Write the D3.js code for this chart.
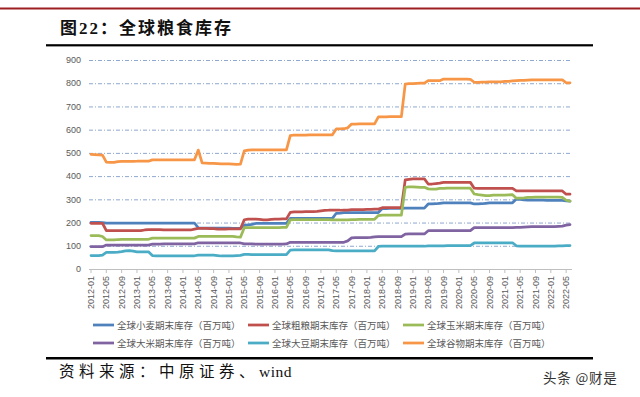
<!DOCTYPE html>
<html><head><meta charset="utf-8">
<script src="https://cdn.jsdelivr.net/npm/d3@7"></script>
<style>body{margin:0;background:#fff}svg{display:block}</style>
</head><body>
<svg id="c" width="640" height="397"></svg>
<script>
// Monthly values 2012-01 .. 2022-06 (million tonnes)
const wheat = [
201,201,201,200,198,198,198,198,198,198,198,198,
198,198,198,198,198,198,198,198,198,198,198,198,
198,198,198,198,177,176,176,176,176,176,176,176,
176,175,175,175,188,190,192,196,197,197,197,197,
197,197,197,197,218,218,218,218,218,218,218,218,
218,218,218,218,240,241,243,243,243,243,243,243,
243,243,243,243,260,260,261,261,261,261,262,262,
262,262,262,262,280,280,281,283,285,285,285,285,
285,285,285,285,280,280,281,283,285,285,285,285,
285,285,285,301,300,298,297,297,297,297,297,296,
296,296,296,295,293,292];
const coarse = [
197,197,197,197,165,165,165,165,165,165,165,165,
165,165,168,170,170,170,170,168,168,168,168,168,
168,168,168,172,175,175,175,174,174,172,172,172,
173,173,173,173,212,215,215,215,214,212,212,214,
215,215,216,216,244,246,246,246,247,247,247,248,
250,252,253,253,253,253,254,254,256,256,256,256,
257,257,258,258,264,264,264,264,264,264,384,386,
388,388,388,388,366,366,368,370,373,373,373,373,
373,373,373,373,348,347,347,347,347,347,347,347,
347,347,347,336,336,336,336,336,336,336,336,336,
336,336,336,336,322,322];
const corn = [
144,144,144,140,125,125,125,127,128,128,128,128,
128,128,128,128,133,133,133,133,133,133,133,133,
133,133,133,133,140,140,140,140,140,140,140,140,
140,140,138,137,178,178,178,178,178,178,178,178,
178,178,179,179,212,213,213,213,213,213,213,213,
213,213,213,212,212,212,212,212,213,213,214,214,
214,214,214,230,232,232,232,232,232,232,352,354,
354,353,352,352,345,344,344,347,347,348,348,348,
348,348,348,348,323,320,318,316,316,318,318,318,
318,319,320,305,305,306,308,308,309,309,309,309,
309,309,309,308,296,292];
const rice = [
96,96,96,96,103,103,103,103,103,103,103,103,
103,103,103,103,107,107,107,108,108,108,108,108,
108,108,108,108,113,113,113,113,113,113,113,113,
113,113,112,112,108,108,108,107,107,107,107,107,
107,107,107,108,115,115,115,115,115,115,115,115,
115,115,115,115,115,115,115,121,134,135,135,135,
135,136,138,139,139,139,139,139,139,139,150,151,
151,151,151,151,165,165,165,165,165,165,165,165,
165,165,165,165,178,178,178,178,178,178,178,178,
178,178,178,179,179,180,181,182,182,182,182,182,
183,183,184,185,189,191];
const soy = [
58,58,58,60,72,72,72,73,75,78,79,77,
74,74,74,74,58,57,57,57,57,57,57,57,
57,57,57,57,60,60,60,60,60,58,56,56,
56,57,58,59,63,63,62,62,62,62,62,62,
62,62,62,62,81,82,82,82,82,82,82,82,
82,82,82,79,78,78,78,78,78,78,78,78,
78,78,78,97,98,98,98,98,98,98,98,98,
98,98,98,98,100,100,100,100,100,101,101,101,
101,101,101,101,112,113,113,113,113,113,113,113,
113,113,113,100,99,99,99,99,99,99,99,99,
99,99,100,100,101,101];
const cereals = [
494,493,491,490,460,459,459,462,463,463,463,463,
464,464,464,464,470,470,470,470,470,470,470,470,
470,470,470,470,512,457,456,455,455,454,453,453,
453,452,451,452,509,512,513,513,513,513,513,513,
513,513,513,513,574,577,577,576,576,578,578,578,
578,578,578,578,603,603,604,608,624,624,625,625,
625,625,625,655,655,655,656,656,656,656,796,798,
798,799,800,800,811,811,811,811,818,818,818,818,
818,818,818,817,804,804,805,805,806,806,806,806,
808,808,810,811,812,812,813,814,814,814,814,814,
814,814,814,814,802,802];

const seriesNames = ["全球小麦期末库存（百万吨）","全球粗粮期末库存（百万吨）","全球玉米期末库存（百万吨）",
                     "全球大米期末库存（百万吨）","全球大豆期末库存（百万吨）","全球谷物期末库存（百万吨）"];
const seriesValues = [wheat, coarse, corn, rice, soy, cereals];
const colors = ["#4F81BD","#C0504D","#9BBB59","#8064A2","#4BACC6","#F79646"];
const tickLabels = ["2012-01","2012-05","2012-09","2013-01","2013-05","2013-09","2014-01","2014-05","2014-09",
  "2015-01","2015-05","2015-09","2016-01","2016-05","2016-09","2017-01","2017-05","2017-09","2018-01","2018-05",
  "2018-09","2019-01","2019-05","2019-09","2020-01","2020-05","2020-09","2021-01","2021-05","2021-09","2022-01","2022-05"];
const yTicks = [0,100,200,300,400,500,600,700,800,900];
const months = d3.range(wheat.length).map(i => (2012 + Math.floor(i/12)) + "-" + String(i%12+1).padStart(2,"0"));

const svg = d3.select("#c");
const x = d3.scalePoint().domain(months).range([91, 570]);
const y = d3.scaleLinear().domain([0, 900]).range([269, 60]);

// header decorations
svg.append("rect").attr("x",0).attr("y",7.5).attr("width",640).attr("height",2).attr("fill","#9e1f22");
svg.append("text").attr("x",60).attr("y",34)
  .attr("font-family","'Liberation Serif','Noto Sans CJK SC',serif").attr("font-weight","bold")
  .attr("font-size",17).attr("letter-spacing",2).attr("fill","#111").text("图22：全球粮食库存");
svg.append("rect").attr("x",46).attr("y",44.2).attr("width",547).attr("height",2.2).attr("fill","#000");

// gridlines
svg.append("g").selectAll("line").data(yTicks.filter(d=>d>0)).join("line")
  .attr("x1",89).attr("x2",572).attr("y1",d=>y(d)+0.5).attr("y2",d=>y(d)+0.5)
  .attr("stroke","#8fa8cf").attr("stroke-width",1).attr("stroke-dasharray","4 2 1 2");
svg.append("line").attr("x1",89).attr("x2",572).attr("y1",y(0)+0.5).attr("y2",y(0)+0.5)
  .attr("stroke","#bfbfbf").attr("stroke-width",1);

// y axis labels
svg.append("g").selectAll("text").data(yTicks).join("text")
  .attr("x",81).attr("y",d=>y(d)+3.2).attr("text-anchor","end")
  .attr("font-family","'Liberation Sans',Arial,sans-serif").attr("font-size",9).attr("fill","#595959")
  .text(d=>d);

// x ticks and labels
svg.append("g").selectAll("line").data(tickLabels).join("line")
  .attr("x1",d=>x(d)).attr("x2",d=>x(d)).attr("y1",269).attr("y2",273)
  .attr("stroke","#bfbfbf").attr("stroke-width",1);
svg.append("g").selectAll("text").data(tickLabels).join("text")
  .attr("transform",d=>`translate(${x(d)},276) rotate(-90)`)
  .attr("text-anchor","end").attr("dy","0.35em")
  .attr("font-family","'Liberation Sans',Arial,sans-serif").attr("font-size",9).attr("fill","#595959")
  .text(d=>d);

// series lines
const line = d3.line().x((d,i)=>x(months[i])).y(d=>y(d));
svg.append("g").selectAll("path").data(seriesValues).join("path")
  .attr("d",d=>line(d)).attr("fill","none")
  .attr("stroke",(d,i)=>colors[i]).attr("stroke-width",2.75)
  .attr("stroke-linejoin","round").attr("stroke-linecap","round");

// legend
const lg = svg.append("g").selectAll("g").data(seriesNames).join("g")
  .attr("transform",(d,i)=>`translate(${93 + (i%3)*155},${325 + Math.floor(i/3)*18})`);
lg.append("line").attr("x1",0).attr("x2",21).attr("y1",0).attr("y2",0)
  .attr("stroke",(d,i)=>colors[i]).attr("stroke-width",2.75);
lg.append("text").attr("x",24).attr("y",3.5)
  .attr("font-family","'Noto Sans CJK SC',sans-serif").attr("font-size",9.5).attr("fill","#595959")
  .text(d=>d);

// footer
svg.append("rect").attr("x",46).attr("y",357).attr("width",547).attr("height",2.5).attr("fill","#000");
const src = svg.append("text").attr("x",59).attr("y",377)
  .attr("font-family","'Liberation Serif','Noto Sans CJK SC',serif").attr("font-size",15.5).attr("fill","#111");
src.append("tspan").attr("letter-spacing",4.5).text("资料来源：中原证券、");
src.append("tspan").attr("letter-spacing",0.5).text("wind");
svg.append("text").attr("x",543).attr("y",383)
  .attr("font-family","'Noto Sans CJK SC',sans-serif").attr("font-size",13.5).attr("letter-spacing",0.8).attr("fill","#333")
  .text("头条 @财是");
</script>
</body></html>
